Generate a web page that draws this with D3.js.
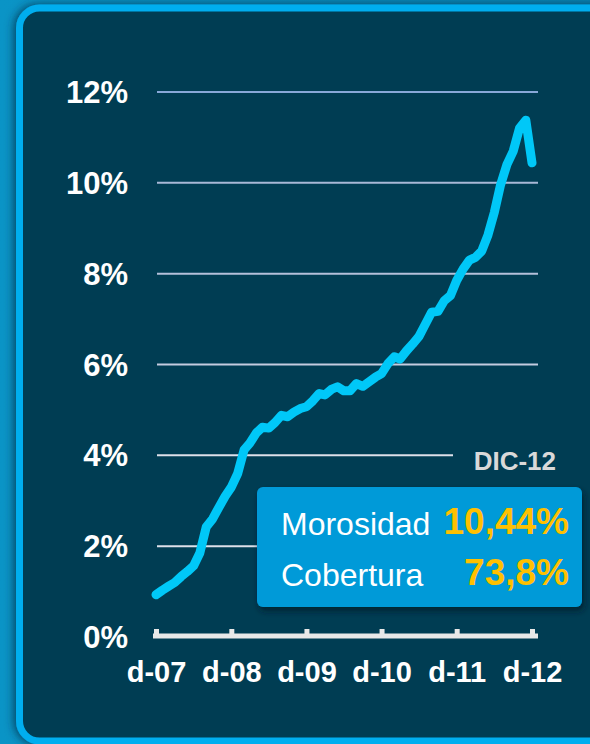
<!DOCTYPE html>
<html>
<head>
<meta charset="utf-8">
<script src="https://cdn.jsdelivr.net/npm/d3@7"></script>
<style>
  html, body { margin: 0; padding: 0; background: #0a8fc0; }
  svg { display: block; }
  text { font-family: "Liberation Sans", Arial, sans-serif; }
</style>
</head>
<body>
<svg id="chart" width="590" height="744"></svg>
<script>
// ---- data ----
const startMonth = "2007-12";
const endMonth = "2012-12";
const morosidad = [
  0.93, 1.03, 1.12, 1.20, 1.33, 1.44, 1.57, 1.85, 2.42, 2.60,
  2.85, 3.10, 3.30, 3.60, 4.12, 4.27, 4.49, 4.62, 4.60, 4.72,
  4.88, 4.85, 4.95, 5.03, 5.07, 5.20, 5.36, 5.33, 5.45, 5.51,
  5.42, 5.42, 5.58, 5.52, 5.62, 5.72, 5.80, 6.02, 6.17, 6.12,
  6.30, 6.45, 6.62, 6.88, 7.15, 7.17, 7.40, 7.52, 7.85, 8.10,
  8.30, 8.36, 8.50, 8.85, 9.35, 9.95, 10.40, 10.70, 11.20, 11.38,
  10.44
];
const yTicks = [0, 2, 4, 6, 8, 10, 12];
const xTickLabels = ["d-07", "d-08", "d-09", "d-10", "d-11", "d-12"];
const boxTitle = "DIC-12";
const boxLabels = ["Morosidad", "Cobertura"];
const boxValues = ["10,44%", "73,8%"];

// ---- setup ----
const svg = d3.select("#chart");
const parse = d3.timeParse("%Y-%m");
const t0 = parse(startMonth), t1 = parse(endMonth);
const months = d3.timeMonth.range(t0, d3.timeMonth.offset(t1, 1));
const series = months.map((d, i) => ({ date: d, v: morosidad[i] }));
const yearTicks = xTickLabels.map((_, i) => d3.timeYear.offset(t0, i));

const x = d3.scaleTime().domain([t0, t1]).range([156, 532]);
const y = d3.scaleLinear().domain([0, 12]).range([637, 92]);

const defs = svg.append("defs");
const bg = defs.append("linearGradient").attr("id", "bg").attr("x1", 0).attr("x2", 1).attr("y1", 0).attr("y2", 0);
bg.append("stop").attr("offset", "0").attr("stop-color", "#0a94c6");
bg.append("stop").attr("offset", "1").attr("stop-color", "#0a86b6");
const sh = defs.append("filter").attr("id", "panelShadow").attr("x", "-10%").attr("y", "-10%").attr("width", "120%").attr("height", "120%");
sh.append("feDropShadow").attr("dx", -2).attr("dy", 0).attr("stdDeviation", 5).attr("flood-color", "#002a44").attr("flood-opacity", 0.8);
const bs = defs.append("filter").attr("id", "boxShadow").attr("x", "-10%").attr("y", "-20%").attr("width", "125%").attr("height", "150%");
bs.append("feDropShadow").attr("dx", 2).attr("dy", 4).attr("stdDeviation", 3).attr("flood-color", "#001a28").attr("flood-opacity", 0.75);

svg.append("rect").attr("width", 590).attr("height", 744).attr("fill", "url(#bg)");

// panel
svg.append("rect")
  .attr("x", 19.5).attr("y", 8).attr("width", 620).attr("height", 733)
  .attr("rx", 20).attr("ry", 20)
  .attr("fill", "#013e53").attr("stroke", "#00aeef").attr("stroke-width", 7)
  .attr("filter", "url(#panelShadow)");

// gridlines
const gridColor = { 2: "#dde1ea", 4: "#dde1ea", 6: "#c4cce0", 8: "#b4c0da", 10: "#a8b8d6", 12: "#88a8d8" };
svg.append("g").selectAll("line")
  .data(yTicks.filter(d => d > 0))
  .join("line")
  .attr("x1", 157)
  .attr("x2", d => d === 4 ? 453 : 538)
  .attr("y1", d => y(d)).attr("y2", d => y(d))
  .attr("stroke", d => gridColor[d]).attr("stroke-width", 2);

// y labels
svg.append("g").selectAll("text")
  .data(yTicks)
  .join("text")
  .attr("x", 128)
  .attr("y", d => y(d) + 11)
  .attr("text-anchor", "end")
  .attr("fill", "#ffffff")
  .attr("font-weight", "bold")
  .attr("font-size", 31)
  .text(d => d + "%");

// line
svg.append("path")
  .datum(series)
  .attr("fill", "none")
  .attr("stroke", "#00c8f8")
  .attr("stroke-width", 9)
  .attr("stroke-linejoin", "round")
  .attr("stroke-linecap", "round")
  .attr("d", d3.line().x(d => x(d.date)).y(d => y(d.v)));

// x axis
const xAxis = d3.axisBottom(x)
  .tickValues(yearTicks)
  .tickSizeInner(-7)
  .tickSizeOuter(0)
  .tickPadding(25)
  .tickFormat((d, i) => xTickLabels[i]);
const gx = svg.append("g").attr("transform", "translate(0,636)").call(xAxis);
gx.select(".domain").remove();
gx.append("line").attr("x1", 153).attr("x2", 538).attr("y1", 0).attr("y2", 0)
  .attr("stroke", "#e8e8e8").attr("stroke-width", 5);
gx.selectAll(".tick line").attr("stroke", "#e8e8e8").attr("stroke-width", 5).attr("y1", 2);
gx.selectAll(".tick text")
  .attr("fill", "#ffffff")
  .attr("font-weight", "bold")
  .attr("font-size", 29)
  .attr("font-family", "Liberation Sans, Arial, sans-serif");

// DIC-12 label
svg.append("text")
  .attr("x", 556).attr("y", 470)
  .attr("text-anchor", "end")
  .attr("fill", "#d9d9d9")
  .attr("font-weight", "bold")
  .attr("font-size", 26)
  .text(boxTitle);

// info box
svg.append("rect")
  .attr("x", 257).attr("y", 487).attr("width", 325).attr("height", 120)
  .attr("rx", 6).attr("ry", 6)
  .attr("fill", "#009ad8")
  .attr("filter", "url(#boxShadow)");

const rowsY = [535, 586];
svg.append("g").selectAll("text")
  .data(boxLabels)
  .join("text")
  .attr("x", 281).attr("y", (d, i) => rowsY[i])
  .attr("fill", "#ffffff")
  .attr("font-size", 32)
  .text(d => d);
svg.append("g").selectAll("text")
  .data(boxValues)
  .join("text")
  .attr("x", 569).attr("y", (d, i) => rowsY[i] - 1)
  .attr("text-anchor", "end")
  .attr("fill", "#ffc000")
  .attr("font-weight", "bold")
  .attr("font-size", 37)
  .text(d => d);
</script>
</body>
</html>
